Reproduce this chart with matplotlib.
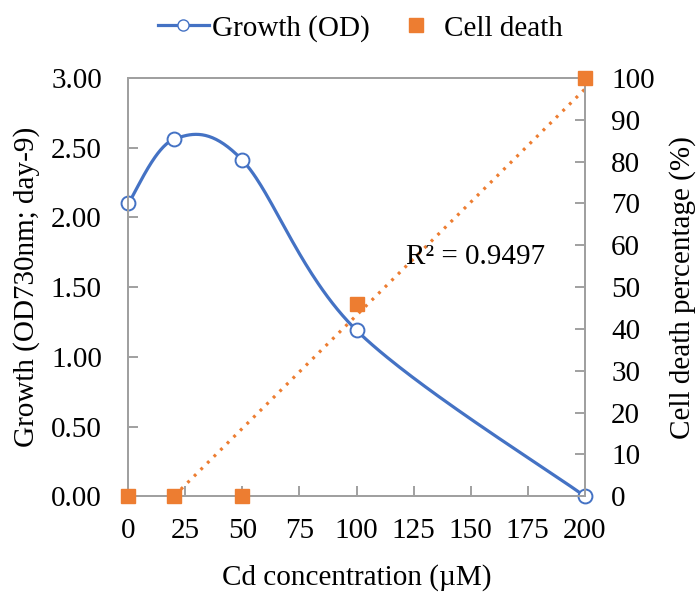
import numpy as np
import matplotlib.pyplot as plt

plt.rcParams['font.family'] = ['Liberation Serif', 'DejaVu Serif']

cd_conc = [0, 20, 50, 100, 200]
growth_od = [2.10, 2.56, 2.41, 1.19, 0.0]
cell_death = [0, 0, 0, 46, 100]

blue = '#4472C4'
orange = '#ED7D31'
gray = '#A0A0A0'
fs = 21


def excel_smooth(x, y, n=60):
    # cubic bezier through points, like Excel's smoothed line
    p = np.column_stack([x, y]).astype(float)
    pts = np.vstack([p[0], p, p[-1]])
    out = []
    for i in range(1, len(pts) - 2):
        p0, p1, p2, p3 = pts[i - 1], pts[i], pts[i + 1], pts[i + 2]
        c1 = p1 + (p2 - p0) / 6
        c2 = p2 - (p3 - p1) / 6
        t = np.linspace(0, 1, n)[:, None]
        seg = (1 - t)**3 * p1 + 3 * (1 - t)**2 * t * c1 + 3 * (1 - t) * t**2 * c2 + t**3 * p2
        out.append(seg)
    seg = np.vstack(out)
    return seg[:, 0], seg[:, 1]


fig = plt.figure(figsize=(6.97, 5.95), dpi=100)
ax = fig.add_axes([0.184, 0.166, 0.655, 0.703])
ax2 = ax.twinx()

sx, sy = excel_smooth(cd_conc, growth_od)
ax.plot(sx, sy, color=blue, lw=2.3, zorder=3)
ax.plot(cd_conc, growth_od, ls='none', marker='o', ms=10, mfc='white',
        mec=blue, mew=1.4, zorder=4, clip_on=False)

# linear trendline for cell death
k, b = np.polyfit(cd_conc, cell_death, 1)
pred = np.polyval([k, b], cd_conc)
r2 = 1 - np.sum((np.array(cell_death) - pred)**2) / np.sum((np.array(cell_death) - np.mean(cell_death))**2)
tx = np.linspace(0, 200, 200)
ax2.plot(tx, k * tx + b, color=orange, ls=(0, (0.9, 2.0)), lw=2.3, zorder=2)
ax2.plot(cd_conc, cell_death, ls='none', marker='s', ms=9.5, color=orange,
         clip_on=False, zorder=5)
ax2.text(152, 57.3, 'R² = %.4f' % r2, ha='center', va='center', fontsize=fs)

ax.set_xlim(0, 200)
ax.set_ylim(0, 3)
ax2.set_ylim(0, 100)
ax.set_xticks(np.arange(0, 201, 25))
ax.set_yticks(np.arange(0, 3.01, 0.5))
ax.set_yticklabels(['%.2f' % v for v in np.arange(0, 3.01, 0.5)])
ax2.set_yticks(np.arange(0, 101, 10))

for a in (ax, ax2):
    for s in a.spines.values():
        s.set_color(gray)
        s.set_linewidth(1.4)
    a.tick_params(direction='in', length=7, width=1.4, color=gray,
                  labelsize=fs, pad=19)
ax.tick_params(axis='x', pad=16)

ax.set_xlabel('Cd concentration (µM)', fontsize=fs, labelpad=14)
ax.set_ylabel('Growth (OD730nm; day-9)', fontsize=fs, labelpad=8)
ax2.set_ylabel('Cell death percentage (%)', fontsize=fs, labelpad=10)

h1 = plt.Line2D([], [], color=blue, lw=2.3, marker='o', ms=8, mfc='white', mec=blue)
h2 = plt.Line2D([], [], ls='none', marker='s', ms=9.5, color=orange)
fig.legend([h1, h2], ['Growth (OD)', 'Cell death'], loc='center',
           bbox_to_anchor=(0.517, 0.952), ncol=2, frameon=False, fontsize=fs,
           handlelength=1.75, handletextpad=0.1, columnspacing=0.7)

fig.savefig('out.png', dpi=100)
